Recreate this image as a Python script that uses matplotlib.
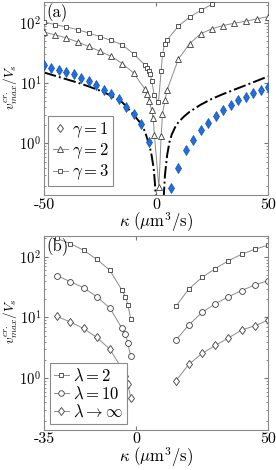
import numpy as np
import matplotlib
matplotlib.use('Agg')
from matplotlib import pyplot as plt
from matplotlib.ticker import LogLocator, NullFormatter

plt.rcParams['font.family'] = 'serif'
plt.rcParams['font.serif'] = ['cmr10', 'DejaVu Serif']
plt.rcParams['mathtext.fontset'] = 'cm'
plt.rcParams['axes.unicode_minus'] = False
plt.rcParams['axes.formatter.use_mathtext'] = True

# ---- panel (a) data ----
k_g1 = [-50, -46.67, -43.33, -40, -36.67, -33.33, -30, -26.67, -23.33, -20, -16.67,
        -13.33, -10, -6.67, -3.33,
        6.67, 10, 13.33, 16.67, 20, 23.33, 26.67, 30, 33.33, 36.67, 40, 43.33, 46.67, 50]
v_g1 = [19.7, 17.8, 16.7, 15.3, 14.0, 12.3, 10.9, 9.2, 7.8, 6.5, 5.4,
        4.0, 3.1, 2.1, 1.07,
        0.185, 0.39, 0.78, 1.13, 1.7, 2.2, 2.9, 3.55, 4.3, 5.2, 5.9, 6.9, 7.6, 8.6]

k_g2 = [-50, -45, -40, -35, -30, -25, -20, -15, -10, -5, -3.9, -2.9, -2.0, -1.25, -0.7,
        1.3, 2.3, 2.9, 4.0, 5, 10, 15, 20, 25, 30, 35, 40, 45, 50]
v_g2 = [70, 63, 56, 48, 40.5, 33.6, 27.8, 21, 14.7, 8.0, 6.6, 5.0, 3.6, 2.6, 1.37,
        0.187, 1.32, 3.1, 5.2, 7.8, 25, 45, 65.8, 79.5, 90, 98.5, 106, 116, 126]

k_g3 = [-50, -45, -40, -35, -30, -25, -20, -15, -10, -5, -4.2, -3.3, -2.6, -1.9, -0.8,
        1.1, 2.3, 2.9, 3.8, 5, 10, 15, 20, 25]
v_g3 = [103, 93, 85, 77, 67.5, 59, 51, 43, 30.5, 20, 18, 16, 14, 10.8, 6.4,
        4.8, 15.9, 30, 43.7, 52, 88, 124, 160, 203]

# dash-dot curve, two branches
k_fit_l = [-50, -45, -40, -35, -30, -25, -20, -15, -10, -7, -5, -3, -2, -1, -0.4, 0]
v_fit_l = [15, 13.2, 11.6, 10.2, 8.8, 7.5, 6.2, 4.8, 3.0, 2.2, 1.6, 0.95, 0.65, 0.38, 0.2, 0.12]
k_fit_r = [3.4, 4, 5, 6, 7, 8.5, 10, 12.5, 15, 20, 25, 30, 35, 40, 45, 50]
v_fit_r = [0.12, 0.3, 0.65, 1.05, 1.4, 1.85, 2.25, 2.8, 3.35, 4.4, 5.5, 6.6, 7.8, 9.2, 10.9, 12.9]

# ---- panel (b) data ----
k_b_left = [-30, -25, -20, -15, -10, -5.5, -4.1, -3.2, -2.1]
k_b_right = [15, 20, 25, 30, 35, 40, 45, 50]
v_lam2 = [200, 165, 128, 91, 60, 28.5, 22, 16.2, 9.6,
          15.2, 29.6, 45.8, 64, 86, 110, 133, 155]
v_lam10 = [48.7, 39, 31, 22, 14.3, 6.7, 5.4, 3.8, 2.3,
           4.2, 7.6, 12.1, 16.8, 22, 27.7, 34.4, 40.4]
v_laminf = [10.4, 8.4, 6.6, 4.7, 3.0, 1.45, 1.09, 0.8, 0.48,
            0.9, 1.7, 2.56, 3.46, 4.6, 6.2, 7.3, 9.0]

line_c = '#8c8c8c'
edge_c = '#3a3a3a'
ylab = r'$v^{cr.}_{max}/V_s$'
xlab = r'$\kappa\ (\mu\mathrm{m}^3/\mathrm{s})$'
fs = 12


def style_axes(ax, xlim, xticks):
    ax.set_yscale('log')
    ax.set_ylim(0.14, 220)
    ax.set_xlim(*xlim)
    ax.set_xticks(xticks)
    ax.set_xticklabels([str(t) for t in xticks])
    ax.yaxis.set_major_locator(LogLocator(base=10, numticks=10))
    ax.yaxis.set_minor_locator(LogLocator(base=10, subs=np.arange(2, 10), numticks=20))
    ax.yaxis.set_minor_formatter(NullFormatter())
    ax.tick_params(which='both', direction='in', top=True, right=True, labelsize=10.5,
                   color='#777777', pad=2)
    ax.tick_params(axis='x', labelsize=11.5)
    ax.tick_params(which='major', length=3)
    ax.tick_params(which='minor', length=1.5)
    for s in ax.spines.values():
        s.set_color('#8a8a8a')
        s.set_linewidth(0.8)
    ax.set_ylabel(ylab, fontsize=9.5)
    ax.yaxis.set_label_coords(-0.107, 0.56)
    ax.set_xlabel(xlab, fontsize=fs, labelpad=-1)


fig = plt.figure(figsize=(2.76, 4.70), dpi=100)
ax1 = fig.add_axes([0.1594, 0.585, 0.8116, 0.4106])
ax2 = fig.add_axes([0.1594, 0.0851, 0.8116, 0.4128])

# (a)
ax1.plot(k_fit_l, v_fit_l, '-.', color='k', lw=1.4, zorder=2)
ax1.plot(k_fit_r, v_fit_r, '-.', color='k', lw=1.4, zorder=2)
ax1.plot(k_g2, v_g2, '-', color=line_c, lw=0.7, marker='^', ms=4.2,
         mfc='white', mec=edge_c, mew=0.6, zorder=3)
ax1.plot(k_g3, v_g3, '-', color=line_c, lw=0.7, marker='s', ms=3.2,
         mfc='white', mec=edge_c, mew=0.6, zorder=3)
ax1.plot(k_g1, v_g1, 'd', ms=5, mfc='#1f6fe0', mec='#1450b0', mew=0.5, zorder=4)

h1, = ax1.plot([], [], 'd', ms=4.5, mfc='white', mec=edge_c, mew=0.6)
h2, = ax1.plot([], [], '-', color=line_c, lw=0.7, marker='^', ms=4, mfc='white', mec=edge_c, mew=0.6)
h3, = ax1.plot([], [], '-', color=line_c, lw=0.7, marker='s', ms=3.2, mfc='white', mec=edge_c, mew=0.6)
leg1 = ax1.legend([h1, h2, h3], [r'$\gamma=1$', r'$\gamma=2$', r'$\gamma=3$'],
                  loc='lower left', bbox_to_anchor=(0.02, 0.045), fontsize=fs,
                  handlelength=0.9, handletextpad=0.25, labelspacing=0.1,
                  borderpad=0.25, borderaxespad=0, fancybox=False, framealpha=1)
leg1.get_frame().set_edgecolor('#8a8a8a')
leg1.get_frame().set_linewidth(0.8)
style_axes(ax1, (-50, 50), [-50, 0, 50])
ax1.text(0.01, 0.995, '(a)', transform=ax1.transAxes, ha='left', va='top', fontsize=fs)

# (b)
kb = k_b_left + k_b_right
nl = len(k_b_left)
for vals, mk, ms in [(v_lam2, 's', 3.2), (v_lam10, 'o', 4.2), (v_laminf, 'd', 4.5)]:
    for sl in (slice(0, nl), slice(nl, None)):
        ax2.plot(kb[sl], vals[sl], '-', color=line_c, lw=0.7, marker=mk, ms=ms,
                 mfc='white', mec=edge_c, mew=0.6)

g1, = ax2.plot([], [], '-', color=line_c, lw=0.7, marker='s', ms=3.2, mfc='white', mec=edge_c, mew=0.6)
g2, = ax2.plot([], [], '-', color=line_c, lw=0.7, marker='o', ms=4, mfc='white', mec=edge_c, mew=0.6)
g3, = ax2.plot([], [], '-', color=line_c, lw=0.7, marker='d', ms=4.5, mfc='white', mec=edge_c, mew=0.6)
leg2 = ax2.legend([g1, g2, g3], [r'$\lambda=2$', r'$\lambda=10$', r'$\lambda\rightarrow\infty$'],
                  loc='lower left', bbox_to_anchor=(0.025, 0.03), fontsize=fs,
                  handlelength=0.9, handletextpad=0.25, labelspacing=0.1,
                  borderpad=0.25, borderaxespad=0, fancybox=False, framealpha=1)
leg2.get_frame().set_edgecolor('#8a8a8a')
leg2.get_frame().set_linewidth(0.8)
style_axes(ax2, (-35, 50), [-35, 0, 50])
ax2.text(0.01, 0.995, '(b)', transform=ax2.transAxes, ha='left', va='top', fontsize=fs)

fig.savefig('out.png', dpi=100)
